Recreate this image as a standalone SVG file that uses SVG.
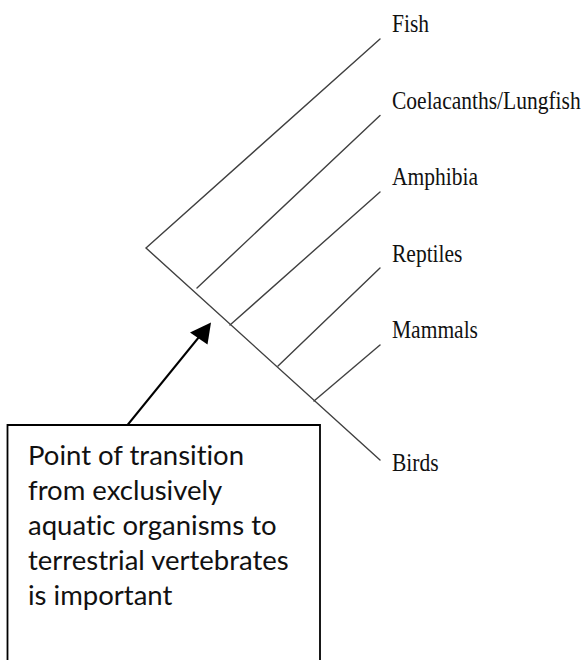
<svg xmlns="http://www.w3.org/2000/svg" width="586" height="660" viewBox="0 0 586 660">
<style>
.br{stroke:#404040;stroke-width:1.4;fill:none;stroke-linecap:round}
.lbl{font-family:"Liberation Serif","Times New Roman",serif;font-size:21.5px;fill:#111}
.note{font-family:Lato,"Liberation Sans",sans-serif;font-size:27.5px;fill:#111;font-variant-ligatures:none;font-feature-settings:"liga" 0}
</style>
<rect width="586" height="660" fill="#fff"/>
<g id="connectors">
<path class="br" d="M380,39 L146,248 L380,460"/>
<line class="br" x1="197" y1="288" x2="380" y2="115.5"/>
<line class="br" x1="230" y1="325" x2="380" y2="192"/>
<line class="br" x1="278" y1="366" x2="380" y2="268"/>
<line class="br" x1="314" y1="401" x2="380" y2="345"/>
<line x1="127.5" y1="425" x2="199" y2="337" stroke="#000" stroke-width="2"/>
<path d="M211,322.5 L190,332.5 L207.5,344.5 z" fill="#000"/>
</g>
<g id="fish"><text class="lbl" transform="translate(392,32) scale(1,1.13)">Fish</text></g>
<g id="coelacanths"><text class="lbl" transform="translate(392,109) scale(1,1.13)">Coelacanths/Lungfish</text></g>
<g id="amphibia"><text class="lbl" transform="translate(392,185) scale(1,1.13)">Amphibia</text></g>
<g id="reptiles"><text class="lbl" transform="translate(392,262) scale(1,1.13)">Reptiles</text></g>
<g id="mammals"><text class="lbl" transform="translate(392,338) scale(1,1.13)">Mammals</text></g>
<g id="birds"><text class="lbl" transform="translate(392,471) scale(1,1.13)">Birds</text></g>
<g id="note">
<path d="M7.5,662 L7.5,425 L320,425 L320,662" fill="#fff" stroke="#000" stroke-width="1.8"/>
<text class="note" x="28" y="465">Point of transition</text>
<text class="note" x="28" y="500">from exclusively</text>
<text class="note" x="28" y="535">aquatic organisms to</text>
<text class="note" x="28" y="570">terrestrial vertebrates</text>
<text class="note" x="28" y="605">is important</text>
</g>
</svg>
